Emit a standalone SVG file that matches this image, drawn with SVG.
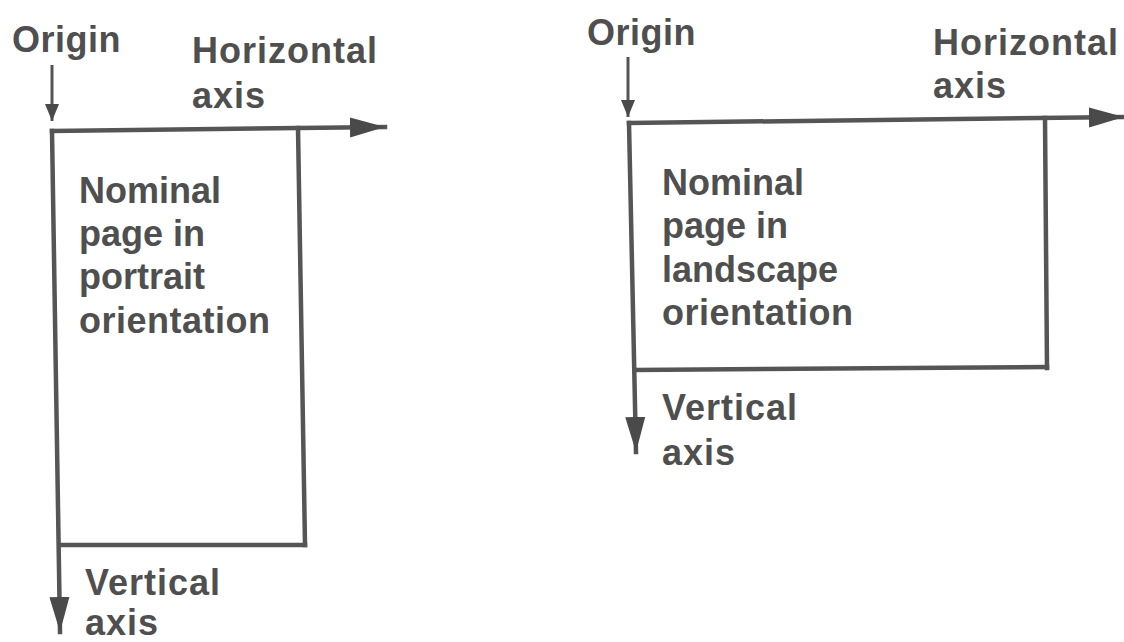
<svg xmlns="http://www.w3.org/2000/svg" width="1124" height="642" viewBox="0 0 1124 642">
<style>
text{font-family:"Liberation Sans",Arial,sans-serif;font-weight:bold;font-size:36px;fill:#4f4f4f}
.ln{stroke:#555;stroke-width:4.5;fill:none;stroke-linecap:square}
.thin{stroke:#555;stroke-width:3;fill:none}
</style>
<defs>
<marker id="big" markerUnits="userSpaceOnUse" markerWidth="36" markerHeight="22" refX="35" refY="11" orient="auto"><path d="M0,1 L35,11 L0,21 z" fill="#4a4a4a"/></marker>
<marker id="small" markerUnits="userSpaceOnUse" markerWidth="18" markerHeight="14" refX="17" refY="7" orient="auto"><path d="M0,0 L17,7 L0,14 z" fill="#4a4a4a"/></marker>
</defs>
<rect width="1124" height="642" fill="#fff"/>
<g id="connectors">
<line class="thin" x1="52" y1="65" x2="52" y2="121" marker-end="url(#small)"/>
<line class="ln" x1="52" y1="131" x2="385" y2="127" marker-end="url(#big)"/>
<line class="ln" x1="298" y1="128" x2="305" y2="545"/>
<line class="ln" x1="60" y1="545" x2="305" y2="545"/>
<line class="ln" x1="52" y1="131" x2="60" y2="632" marker-end="url(#big)"/>
<line class="thin" x1="628" y1="57" x2="628" y2="117" marker-end="url(#small)"/>
<line class="ln" x1="629" y1="123" x2="1124" y2="117" marker-end="url(#big)"/>
<line class="ln" x1="1045" y1="118" x2="1047" y2="368"/>
<line class="ln" x1="635" y1="370" x2="1047" y2="367"/>
<line class="ln" x1="629" y1="123" x2="636" y2="452" marker-end="url(#big)"/>
</g>
<g id="portrait-origin"><text x="12" y="52" letter-spacing="0.5">Origin</text></g>
<g id="portrait-horizontal"><text x="192" y="63" letter-spacing="1">Horizontal</text><text x="192" y="108" letter-spacing="1">axis</text></g>
<g id="portrait-page"><text x="79" y="203" font-size="37">Nominal</text><text x="79" y="246" font-size="37">page in</text><text x="79" y="289" font-size="37">portrait</text><text x="79" y="333" font-size="37" letter-spacing="0.5">orientation</text></g>
<g id="portrait-vertical"><text x="85" y="595" letter-spacing="1">Vertical</text><text x="85" y="635" letter-spacing="1">axis</text></g>
<g id="landscape-origin"><text x="587" y="45" letter-spacing="0.5">Origin</text></g>
<g id="landscape-horizontal"><text x="933" y="55" letter-spacing="1">Horizontal</text><text x="933" y="98" letter-spacing="1">axis</text></g>
<g id="landscape-page"><text x="662" y="195" font-size="37">Nominal</text><text x="662" y="238" font-size="37">page in</text><text x="662" y="282" font-size="37">landscape</text><text x="662" y="325" font-size="37" letter-spacing="0.5">orientation</text></g>
<g id="landscape-vertical"><text x="662" y="420" letter-spacing="1">Vertical</text><text x="662" y="465" letter-spacing="1">axis</text></g>
</svg>
